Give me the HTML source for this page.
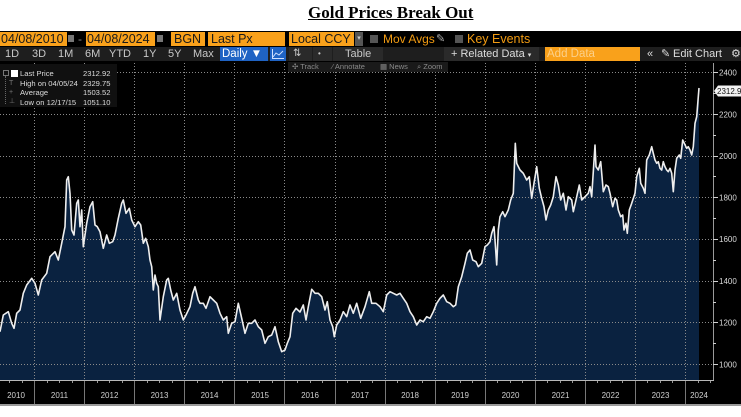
<!DOCTYPE html>
<html><head><meta charset="utf-8">
<style>
html,body{margin:0;padding:0;width:741px;height:417px;overflow:hidden;background:#fff;}
body{position:relative;font-family:"Liberation Sans",sans-serif;}
.a{position:absolute;white-space:nowrap;}
.title{left:308px;top:4px;font:bold 17px/17px "Liberation Serif",serif;text-decoration:underline;color:#000;}
.blk{left:0;top:31px;width:741px;height:373px;background:#000;}
.gline{left:0;top:404px;width:741px;height:2px;background:#9a9a9a;}
.or{background:#f9a11b;color:#1a1a1a;font-size:12.5px;line-height:14px;height:14px;top:32px;}
.ic{background:#777;width:6px;height:7px;top:35px;}
.ot{color:#f39c12;font-size:12px;line-height:14px;top:32px;}
.cb{background:#555;width:8px;height:8px;top:35px;}
.row2{left:0;top:47px;width:741px;height:14px;background:#1e1e1e;}
.r2{color:#c8c8c8;font-size:11px;line-height:14px;top:47px;}
.cell{top:47px;height:14px;background:#2a2a2a;}
.r3{top:62px;left:288px;width:160px;height:10px;background:#1a1a1a;}
.r3t{color:#8a8a8a;font-size:7.5px;line-height:10px;top:62px;}
.leg{left:0;top:64px;width:117px;height:43px;background:#101010;}
.lt{color:#dcdcdc;font-size:7.6px;line-height:9px;}
</style></head><body>
<div class="a title">Gold Prices Break Out</div>
<div class="a blk"></div>
<div class="a gline"></div>

<svg class="a" style="left:0;top:0" width="741" height="417" viewBox="0 0 741 417">
<polygon fill="#0a2240" points="0,331.7 3.3,315 8.3,311.7 11.7,323.3 14,328.3 16.7,313.3 20,310 23.3,293.3 26.7,285 31.7,278.3 35,283.3 38.3,295 41.7,280 46.7,273.3 50,256.7 55,251.7 58.3,260 61.7,243.3 65,226.7 66.7,180 68.3,176.7 70,193.3 71.7,230 74,235 76.7,203.3 78.3,200 80,226.7 81.7,210 83.3,246.7 86.7,223.3 90,206.7 92.7,201.7 95,225 97.3,226.7 100,231.7 103.3,248.3 106.7,235 109.3,243.3 112.7,241.7 115,235 118.3,218.3 121.7,203.3 123.3,200 126,213.3 129.3,208.3 131.7,220 135,226.7 138.3,221.7 140.7,225 143.3,243.3 145.7,238.3 148.3,246.7 150,260 151.7,266.7 153.3,290 155,275 156.7,283.3 158.3,286.7 160,320 163.3,296.7 166.7,280 168.3,278.3 170.7,290 173.3,300 176.7,293.3 180,310 183.3,320 186,315 190,306.7 192.7,293.3 195,286.7 198.3,300 200,303.3 203.3,303.3 206,308.3 210,296.7 213.3,300 216.7,303.3 220,313.3 223.3,320 226.7,316.7 228.3,333.3 231.7,323.3 235,321.7 238.3,303.3 241.7,318.3 245,333.3 248.3,323.3 251.7,323.3 255,320 258.3,326.7 261.7,330 265,343.3 268.3,336.7 271.7,335 275,326.7 278.3,341.7 281.7,351.7 285,350 287.3,343.3 290,336.7 292.7,313.3 296,308.3 300,312 303.3,305 306,320 308.3,306.7 311.7,289.3 315,293.3 318.3,293.3 321.7,296.7 325,310 327.3,301.7 330,320 332.7,326.7 334.3,336.7 336.7,325 340,320 343.3,311.7 346.7,316.7 350,305 353.3,313.3 356.7,303.3 360.7,318.3 365,306.7 369.3,291.7 371.7,303.3 376,303.3 380,306.7 383.3,311.7 386.7,295 390,291.7 393.3,293.3 396.7,295 400,293.3 403.3,298.3 406.7,303.3 410,311.7 413.3,316.7 416.7,325 420,320 423.3,321.7 426.7,316.7 430,318.3 433.3,311.7 436.7,303.3 440,298.3 443.3,295 446.7,301.7 450,303.3 453.3,306.7 455.7,305 458.3,286.7 461.7,276.7 465,263.3 467.3,253.3 470,250 472.7,260 476,261.7 478.3,266.7 481.7,263.3 485,246.7 487.3,245 490,241.7 491.7,233.3 494,226.7 495,240 496.7,265 498.3,230 500,216.7 502.7,211.7 505,216.7 508.3,210 510.7,200 513.3,193.3 515.3,143.3 516.7,163.3 520,170 523.3,173.3 526.7,180 529.3,176.7 531.7,198.3 534,183.3 536.7,166.7 539.3,188.3 541.7,198.3 544,206.7 546,220 548.3,210 550.7,205 553.3,196.7 556,176.7 558.3,185 560.7,200 563.3,193.3 566,210 568.3,196.7 571.7,200 573.3,211.7 576,200 579.3,185 581.7,200 585,196.7 588.3,193.3 590,186.7 591.7,196.7 595,145 596,166.7 598.3,170 600.7,161.7 603.3,191.7 606,185 608.3,186.7 610,193.3 612.7,206.7 615,198.3 616.7,200 618.3,210 620.7,216.7 622.7,215 624,230 626,223.3 627.3,233.3 629.3,210 631.7,203.3 635,193.3 636.7,176.7 639.3,168.3 640.7,183.3 643.3,188.3 645,193.3 646.7,160 649.3,155 651.7,146.7 653.3,153.3 655,160 656.7,163.3 658.3,161.7 660,168.3 661.7,170 663.3,161.7 665,166.7 666.7,170 668.3,171.7 670,168.3 671.7,173.3 673.3,191.7 675,170 676.7,158.3 679.3,155 680.7,158.3 682.7,140 684.3,143.3 686.7,148.3 688.3,146.7 690,150 691.7,155 693.3,146.7 695,123.3 696.7,116.7 698.3,96.7 699,88 699,380 0,380"/>
<g stroke="#8a8a8a" stroke-width="1" stroke-dasharray="1 2" fill="none">
<path d="M0 72.5H713M0 114.5H713M0 156.5H713M0 197.5H713M0 239.5H713M0 281.5H713M0 322.5H713M0 364.5H713"/>
<path d="M34.5 63V380M84.5 63V380M134.5 63V380M184.5 63V380M234.5 63V380M284.5 63V380M335.5 63V380M385.5 63V380M435.5 63V380M485.5 63V380M535.5 63V380M585.5 63V380M635.5 63V380M685.5 63V380"/>
</g>
<polyline fill="none" stroke="#eeeeee" stroke-width="1.6" stroke-linejoin="round" points="0,331.7 3.3,315 8.3,311.7 11.7,323.3 14,328.3 16.7,313.3 20,310 23.3,293.3 26.7,285 31.7,278.3 35,283.3 38.3,295 41.7,280 46.7,273.3 50,256.7 55,251.7 58.3,260 61.7,243.3 65,226.7 66.7,180 68.3,176.7 70,193.3 71.7,230 74,235 76.7,203.3 78.3,200 80,226.7 81.7,210 83.3,246.7 86.7,223.3 90,206.7 92.7,201.7 95,225 97.3,226.7 100,231.7 103.3,248.3 106.7,235 109.3,243.3 112.7,241.7 115,235 118.3,218.3 121.7,203.3 123.3,200 126,213.3 129.3,208.3 131.7,220 135,226.7 138.3,221.7 140.7,225 143.3,243.3 145.7,238.3 148.3,246.7 150,260 151.7,266.7 153.3,290 155,275 156.7,283.3 158.3,286.7 160,320 163.3,296.7 166.7,280 168.3,278.3 170.7,290 173.3,300 176.7,293.3 180,310 183.3,320 186,315 190,306.7 192.7,293.3 195,286.7 198.3,300 200,303.3 203.3,303.3 206,308.3 210,296.7 213.3,300 216.7,303.3 220,313.3 223.3,320 226.7,316.7 228.3,333.3 231.7,323.3 235,321.7 238.3,303.3 241.7,318.3 245,333.3 248.3,323.3 251.7,323.3 255,320 258.3,326.7 261.7,330 265,343.3 268.3,336.7 271.7,335 275,326.7 278.3,341.7 281.7,351.7 285,350 287.3,343.3 290,336.7 292.7,313.3 296,308.3 300,312 303.3,305 306,320 308.3,306.7 311.7,289.3 315,293.3 318.3,293.3 321.7,296.7 325,310 327.3,301.7 330,320 332.7,326.7 334.3,336.7 336.7,325 340,320 343.3,311.7 346.7,316.7 350,305 353.3,313.3 356.7,303.3 360.7,318.3 365,306.7 369.3,291.7 371.7,303.3 376,303.3 380,306.7 383.3,311.7 386.7,295 390,291.7 393.3,293.3 396.7,295 400,293.3 403.3,298.3 406.7,303.3 410,311.7 413.3,316.7 416.7,325 420,320 423.3,321.7 426.7,316.7 430,318.3 433.3,311.7 436.7,303.3 440,298.3 443.3,295 446.7,301.7 450,303.3 453.3,306.7 455.7,305 458.3,286.7 461.7,276.7 465,263.3 467.3,253.3 470,250 472.7,260 476,261.7 478.3,266.7 481.7,263.3 485,246.7 487.3,245 490,241.7 491.7,233.3 494,226.7 495,240 496.7,265 498.3,230 500,216.7 502.7,211.7 505,216.7 508.3,210 510.7,200 513.3,193.3 515.3,143.3 516.7,163.3 520,170 523.3,173.3 526.7,180 529.3,176.7 531.7,198.3 534,183.3 536.7,166.7 539.3,188.3 541.7,198.3 544,206.7 546,220 548.3,210 550.7,205 553.3,196.7 556,176.7 558.3,185 560.7,200 563.3,193.3 566,210 568.3,196.7 571.7,200 573.3,211.7 576,200 579.3,185 581.7,200 585,196.7 588.3,193.3 590,186.7 591.7,196.7 595,145 596,166.7 598.3,170 600.7,161.7 603.3,191.7 606,185 608.3,186.7 610,193.3 612.7,206.7 615,198.3 616.7,200 618.3,210 620.7,216.7 622.7,215 624,230 626,223.3 627.3,233.3 629.3,210 631.7,203.3 635,193.3 636.7,176.7 639.3,168.3 640.7,183.3 643.3,188.3 645,193.3 646.7,160 649.3,155 651.7,146.7 653.3,153.3 655,160 656.7,163.3 658.3,161.7 660,168.3 661.7,170 663.3,161.7 665,166.7 666.7,170 668.3,171.7 670,168.3 671.7,173.3 673.3,191.7 675,170 676.7,158.3 679.3,155 680.7,158.3 682.7,140 684.3,143.3 686.7,148.3 688.3,146.7 690,150 691.7,155 693.3,146.7 695,123.3 696.7,116.7 698.3,96.7 699,88"/>
<path d="M713.5 63V380" stroke="#9a9a9a" stroke-width="1"/>
<path d="M0 380.5H714" stroke="#b8b8b8" stroke-width="1"/>
<g stroke="#d0d0d0" stroke-width="1">
<path d="M713 72.5H718M713 114.5H718M713 156.5H718M713 197.5H718M713 239.5H718M713 281.5H718M713 322.5H718M713 364.5H718"/>
<path d="M713 93.5H716M713 135.5H716M713 176.5H716M713 218.5H716M713 260.5H716M713 302.5H716M713 343.5H716"/>
</g>
<g stroke="#777" stroke-width="1">
<path d="M34.5 381V404M84.5 381V404M134.5 381V404M184.5 381V404M234.5 381V404M284.5 381V404M335.5 381V404M385.5 381V404M435.5 381V404M485.5 381V404M535.5 381V404M585.5 381V404M635.5 381V404M685.5 381V404"/>
</g>
<g stroke="#999" stroke-width="1">
<path d="M9.5 381V383M22.5 381V383M47.5 381V383M59.5 381V383M72.5 381V383M97.5 381V383M109.5 381V383M122.5 381V383M147.5 381V383M159.5 381V383M172.5 381V383M197.5 381V383M209.5 381V383M222.5 381V383M247.5 381V383M259.5 381V383M272.5 381V383M297.5 381V383M310.5 381V383M322.5 381V383M347.5 381V383M360.5 381V383M372.5 381V383M397.5 381V383M410.5 381V383M422.5 381V383M447.5 381V383M460.5 381V383M472.5 381V383M497.5 381V383M510.5 381V383M522.5 381V383M547.5 381V383M560.5 381V383M572.5 381V383M597.5 381V383M610.5 381V383M622.5 381V383M647.5 381V383M660.5 381V383M672.5 381V383M698.5 381V383M710.5 381V383"/>
</g>
<g font-family="Liberation Sans, sans-serif" font-size="8" fill="#d8d8d8">
<text x="719" y="75.5">2400</text>
<text x="719" y="117.5">2200</text>
<text x="719" y="159">2000</text>
<text x="719" y="200.5">1800</text>
<text x="719" y="242">1600</text>
<text x="719" y="284">1400</text>
<text x="719" y="325.5">1200</text>
<text x="719" y="367.5">1000</text>
</g>
<g font-family="Liberation Sans, sans-serif" font-size="8" fill="#d0d0d0" text-anchor="middle">
<text x="16" y="398">2010</text>
<text x="59.5" y="398">2011</text>
<text x="109.5" y="398">2012</text>
<text x="159.5" y="398">2013</text>
<text x="209.5" y="398">2014</text>
<text x="260" y="398">2015</text>
<text x="310" y="398">2016</text>
<text x="360" y="398">2017</text>
<text x="410" y="398">2018</text>
<text x="460" y="398">2019</text>
<text x="510.5" y="398">2020</text>
<text x="560.5" y="398">2021</text>
<text x="610.5" y="398">2022</text>
<text x="660.5" y="398">2023</text>
<text x="699" y="398">2024</text>
</g>
<path d="M714 91 L718 85.5 H741 V96.5 H718 Z" fill="#f2f2f2"/>
<text x="717" y="94.2" font-family="Liberation Sans, sans-serif" font-size="8" fill="#111">2312.9</text>
</svg>

<div class="a leg"></div>
<div class="a" style="left:5px;top:76px;width:0;height:28px;border-left:1px dotted #666;"></div>
<div class="a" style="left:3px;top:70px;width:4px;height:4px;border:1px solid #777;"></div>
<div class="a" style="left:11px;top:70px;width:7px;height:7px;background:#fff;"></div>
<div class="a lt" style="left:9px;top:79px;color:#777;font-size:7px;">T</div>
<div class="a lt" style="left:9px;top:88px;color:#777;font-size:7px;">+</div>
<div class="a lt" style="left:9px;top:97px;color:#777;font-size:7px;">⊥</div>
<div class="a lt" style="left:20px;top:69px;">Last Price</div>
<div class="a lt" style="left:20px;top:79px;">High on 04/05/24</div>
<div class="a lt" style="left:20px;top:88px;">Average</div>
<div class="a lt" style="left:20px;top:97.5px;">Low on 12/17/15</div>
<div class="a lt" style="left:83px;top:69px;">2312.92</div>
<div class="a lt" style="left:83px;top:79px;">2329.75</div>
<div class="a lt" style="left:83px;top:88px;">1503.52</div>
<div class="a lt" style="left:83px;top:97.5px;">1051.10</div>

<div class="a or" style="left:0;width:66px;padding-left:1px;">04/08/2010</div>
<div class="a ic" style="left:68px;"></div>
<div class="a" style="left:78px;top:32px;color:#888;font-size:12px;line-height:14px;">-</div>
<div class="a or" style="left:86px;width:68px;padding-left:1px;">04/08/2024</div>
<div class="a ic" style="left:157px;"></div>
<div class="a or" style="left:171px;width:31px;padding-left:3px;">BGN</div>
<div class="a or" style="left:208px;width:74px;padding-left:3px;">Last Px</div>
<div class="a or" style="left:289px;width:63px;padding-left:2px;">Local CCY</div>
<div class="a" style="left:355px;top:32px;width:8px;height:14px;background:#555;color:#ccc;font-size:7px;line-height:14px;text-align:center;">▾</div>
<div class="a cb" style="left:370px;"></div>
<div class="a ot" style="left:383px;">Mov Avgs</div>
<div class="a" style="left:436px;top:32px;color:#aaa;font-size:11px;line-height:14px;">✎</div>
<div class="a cb" style="left:455px;"></div>
<div class="a ot" style="left:467px;font-size:12.5px;">Key Events</div>

<div class="a row2"></div>
<div class="a cell" style="left:289px;width:23px;"></div>
<div class="a cell" style="left:313px;width:19px;"></div>
<div class="a cell" style="left:333px;width:50px;"></div>
<div class="a cell" style="left:444px;width:95px;"></div>
<div class="a r2" style="left:5px;">1D</div>
<div class="a r2" style="left:32px;">3D</div>
<div class="a r2" style="left:58px;">1M</div>
<div class="a r2" style="left:85px;">6M</div>
<div class="a r2" style="left:109px;">YTD</div>
<div class="a r2" style="left:143px;">1Y</div>
<div class="a r2" style="left:168px;">5Y</div>
<div class="a r2" style="left:193px;">Max</div>
<div class="a" style="left:220px;top:47px;width:48px;height:14px;background:#1f63c4;color:#fff;font-size:11.5px;line-height:14px;padding-left:2px;box-sizing:border-box;">Daily ▼</div>
<div class="a" style="left:270px;top:47px;width:16px;height:14px;background:#1f63c4;"></div>
<svg class="a" style="left:272px;top:49px" width="12" height="10"><polyline points="1,8 4,4 7,6 11,2" fill="none" stroke="#cfe0ff" stroke-width="1"/><path d="M0.5 0V9.5H12" fill="none" stroke="#cfe0ff" stroke-width="1"/></svg>
<div class="a r2" style="left:293px;font-size:10px;">⇅</div>
<div class="a r2" style="left:318px;font-size:8px;">•</div>
<div class="a r2" style="left:345px;">Table</div>
<div class="a r2" style="left:451px;color:#ddd;">+ Related Data <span style="font-size:7px;">▾</span></div>
<div class="a" style="left:545px;top:47px;width:95px;height:14px;background:#f9a11b;color:#fcd08a;font-size:11.5px;line-height:14px;padding-left:2px;box-sizing:border-box;">Add Data</div>
<div class="a r2" style="left:647px;color:#ddd;">«</div>
<div class="a r2" style="left:661px;color:#ddd;">✎</div>
<div class="a r2" style="left:673px;color:#ddd;">Edit Chart</div>
<div class="a r2" style="left:731px;color:#ddd;">⚙</div>

<div class="a r3"></div>
<div class="a r3t" style="left:292px;">✣ Track</div>
<div class="a r3t" style="left:332px;">⁄ Annotate</div>
<div class="a r3t" style="left:380px;">▦ News</div>
<div class="a r3t" style="left:417px;">⌕ Zoom</div>
</body></html>
